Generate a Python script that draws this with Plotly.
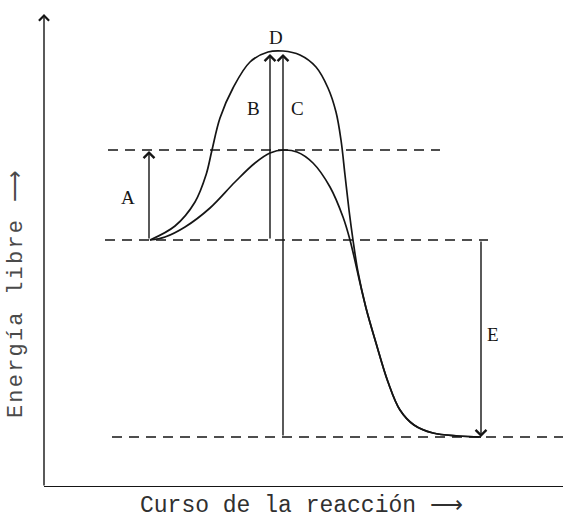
import plotly.graph_objects as go

# Reaction coordinate / free energy (arbitrary units)
uncat_x = [106, 131, 151, 162, 168, 176, 189, 206, 224, 239, 256, 272, 284, 292, 297, 301, 305,
           309, 314, 322, 332, 344, 356, 370, 389, 414, 437]
uncat_e = [247, 261, 285, 312, 337, 369, 399, 425, 435, 436, 432, 420, 399, 375, 347, 312, 277,
           247, 215, 179, 144, 105, 77, 62, 54, 51, 50]

cat_x = [106, 121, 141, 166, 191, 211, 226, 240, 253, 269, 286, 299, 306, 316, 322,
         332, 344, 356, 370, 389, 414, 437]
cat_e = [247, 250, 260, 279, 305, 324, 334, 337, 335, 324, 300, 270, 247, 204, 179,
         144, 105, 77, 62, 54, 51, 50]

# Energy levels: reactants, catalysed TS, uncatalysed TS, products
level_names = ["reactivos", "ET catalizado", "ET no catalizado", "productos"]
level_energy = [247, 337, 436, 50]

# Labelled arrows (from level -> to level)
arrow_labels = ["A", "B", "C", "E"]
arrow_from = [247, 247, 50, 247]
arrow_to = [337, 436, 436, 50]
arrow_x = [105, 226, 239, 437]

INK = "#151515"
fig = go.Figure()
for xs, es in ((uncat_x, uncat_e), (cat_x, cat_e)):
    fig.add_trace(go.Scatter(x=xs, y=es, mode="lines",
                             line=dict(color=INK, width=1.7, shape="spline", smoothing=1.0),
                             hoverinfo="skip", showlegend=False))

# dashed level lines
dash_extent = {"reactivos": (61, 444), "ET catalizado": (64, 396), "productos": (68, 519)}
for name, e in zip(level_names, level_energy):
    if name in dash_extent:
        x0, x1 = dash_extent[name]
        fig.add_shape(type="line", xref="x", yref="y", x0=x0, x1=x1, y0=e, y1=e,
                      line=dict(color=INK, width=1.5, dash="10px,7px"))

# axes: y with arrow, x plain
fig.add_annotation(x=0, y=473, ax=0, ay=0, xref="x", yref="y", axref="x", ayref="y",
                   showarrow=True, arrowhead=4, arrowsize=1.4, arrowwidth=1.4,
                   arrowcolor=INK, text="")
fig.add_shape(type="line", xref="x", yref="y", x0=0, x1=519, y0=0, y1=0,
              line=dict(color=INK, width=1.8))

label_pos = {"A": (84, 290), "B": (209, 379), "C": (253, 379), "E": (449, 153)}
for lab, x, y0, y1 in zip(arrow_labels, arrow_x, arrow_from, arrow_to):
    tip = y1 - 3 if y1 > y0 else y1
    if lab == "A":
        tip = y1 - 1
    fig.add_annotation(x=x, y=tip, ax=x, ay=y0, xref="x", yref="y", axref="x", ayref="y",
                       showarrow=True, arrowhead=4, arrowsize=1.5, arrowwidth=1.4,
                       arrowcolor=INK, text="")
    lx, ly = label_pos[lab]
    fig.add_annotation(x=lx, y=ly, xref="x", yref="y", text=lab, showarrow=False,
                       font=dict(family="Liberation Serif", size=19, color=INK))

fig.add_annotation(x=232, y=450, xref="x", yref="y", text="D", showarrow=False,
                   font=dict(family="Liberation Serif", size=19, color=INK))

# axis titles
fig.add_annotation(x=-0.054, y=0.41, xref="paper", yref="paper",
                   text='<span style="letter-spacing:2.2px">Energía libre ⟶</span>',
                   textangle=-90, showarrow=False, xanchor="center", yanchor="middle",
                   font=dict(family="Liberation Mono", size=22, color="#4a4a4a"))
fig.add_annotation(x=0.497, y=-0.04, xref="paper", yref="paper",
                   text="Curso de la reacción ⟶",
                   showarrow=False, xanchor="center", yanchor="middle",
                   font=dict(family="Liberation Mono", size=23, color="#303030"))

fig.update_xaxes(range=[0, 519], visible=False)
fig.update_yaxes(range=[0, 473], visible=False)
fig.update_layout(width=563, height=515, margin=dict(l=44, r=0, t=14, b=28),
                  paper_bgcolor="white", plot_bgcolor="white")
fig.write_html("out.html", config={"displayModeBar": False},
               post_script="document.body.style.margin='0';")
